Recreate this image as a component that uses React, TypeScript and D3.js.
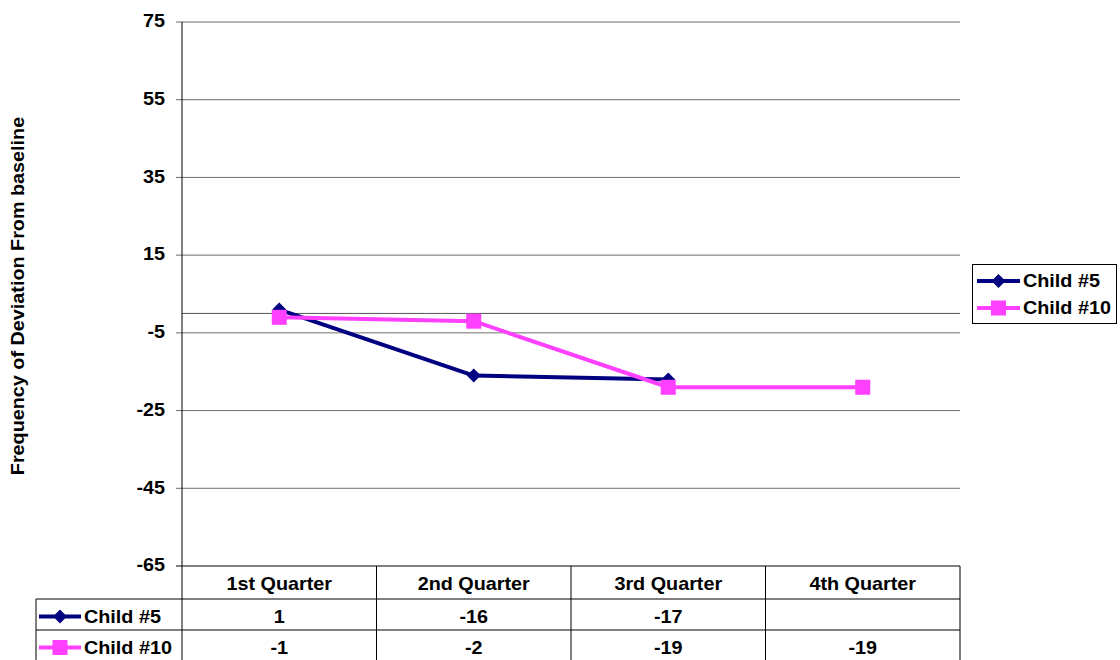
import React from "react";
import * as d3 from "d3";

const categories = ["1st Quarter", "2nd Quarter", "3rd Quarter", "4th Quarter"];
const child5: (number | null)[] = [1, -16, -17, null];
const child10: (number | null)[] = [-1, -2, -19, -19];
const yTicks = [75, 55, 35, 15, -5, -25, -45, -65];
const seriesNames = ["Child #5", "Child #10"];
const seriesColors = ["#000080", "#FF40FF"];

const W = 1120, H = 660;
const left = 182, right = 960, top = 22, bottom = 566;
const FONT = "'Liberation Sans', Arial, sans-serif";
const FS = 18;
const SX = 1.1;

function T({ x, y, anchor = "start", rotate = 0, children }: { x: number; y: number; anchor?: string; rotate?: number; children: React.ReactNode }) {
  return (
    <text
      transform={`translate(${x},${y}) rotate(${rotate}) scale(${SX},1)`}
      dy="0.35em"
      textAnchor={anchor}
      fontSize={FS}
      fontWeight="bold"
    >
      {children}
    </text>
  );
}

function Marker({ kind, x, y, color }: { kind: number; x: number; y: number; color: string }) {
  if (kind === 0) {
    const r = 7;
    return <path d={`M${x},${y - r}L${x + r},${y}L${x},${y + r}L${x - r},${y}Z`} fill={color} />;
  }
  const s = 15;
  return <rect x={x - s / 2} y={y - s / 2} width={s} height={s} fill={color} />;
}

export default function App() {
  const x = d3.scaleBand<string>().domain(categories).range([left, right]).padding(0);
  const y = d3.scaleLinear().domain([-65, 75]).range([bottom, top]);
  const cx = (c: string) => (x(c) as number) + x.bandwidth() / 2;
  const series = [child5, child10];
  const line = d3
    .line<number | null>()
    .defined((d) => d !== null)
    .x((_, i) => cx(categories[i]))
    .y((d) => y(d as number));

  const headerBottom = 599;
  const rowH = 31;
  const tableLeft = 36;

  return (
    <svg width={W} height={H} style={{ position: "absolute", left: 0, top: 0, background: "#fff" }} fontFamily={FONT}>
      <rect x={0} y={0} width={W} height={H} fill="#fff" />
      {yTicks.map((t) => (
        <g key={t}>
          <line x1={left - 6} x2={right} y1={y(t)} y2={y(t)} stroke={t === -65 ? "#000" : "#6e6e6e"} strokeWidth={1} />
          <T x={165} y={y(t) - 1} anchor="end">{t}</T>
        </g>
      ))}
      <line x1={left} x2={right} y1={y(0)} y2={y(0)} stroke="#555" strokeWidth={1} />
      <line x1={left} x2={left} y1={top} y2={headerBottom} stroke="#000" strokeWidth={1} />
      <T x={18} y={(top + bottom) / 2 + 2} anchor="middle" rotate={-90}>
        Frequency of Deviation From baseline
      </T>
      {series.map((s, si) => (
        <g key={si}>
          <path d={line(s) || ""} fill="none" stroke={seriesColors[si]} strokeWidth={4} strokeLinejoin="round" />
          {s.map((v, i) =>
            v === null ? null : <Marker key={i} kind={si} x={cx(categories[i])} y={y(v)} color={seriesColors[si]} />
          )}
        </g>
      ))}
      <rect x={972.5} y={264.5} width={144} height={59} fill="#fff" stroke="#000" strokeWidth={1} />
      {seriesNames.map((n, i) => {
        const ly = 281 + i * 27;
        return (
          <g key={n}>
            <line x1={977} x2={1020} y1={ly} y2={ly} stroke={seriesColors[i]} strokeWidth={4} />
            <Marker kind={i} x={998.5} y={ly} color={seriesColors[i]} />
            <T x={1023} y={ly}>{n}</T>
          </g>
        );
      })}
      {categories.map((c) => (
        <g key={c}>
          <line x1={(x(c) as number) + x.bandwidth()} x2={(x(c) as number) + x.bandwidth()} y1={bottom} y2={H} stroke="#000" strokeWidth={1} />
          <T x={cx(c)} y={(bottom + headerBottom) / 2 + 1} anchor="middle">{c}</T>
        </g>
      ))}
      <line x1={left} x2={left} y1={headerBottom} y2={H} stroke="#000" strokeWidth={1} />
      <line x1={tableLeft} x2={tableLeft} y1={headerBottom} y2={H} stroke="#000" strokeWidth={1} />
      {[0, 1].map((r) => (
        <line key={r} x1={tableLeft} x2={right} y1={headerBottom + r * rowH} y2={headerBottom + r * rowH} stroke="#000" strokeWidth={1} />
      ))}
      {series.map((s, si) => {
        const ry = headerBottom + si * rowH + rowH / 2 + 2;
        return (
          <g key={si}>
            <line x1={39} x2={81} y1={ry} y2={ry} stroke={seriesColors[si]} strokeWidth={4} />
            <Marker kind={si} x={60} y={ry} color={seriesColors[si]} />
            <T x={84} y={ry}>{seriesNames[si]}</T>
            {s.map((v, i) =>
              v === null ? null : (
                <T key={i} x={cx(categories[i])} y={ry} anchor="middle">{v}</T>
              )
            )}
          </g>
        );
      })}
    </svg>
  );
}
